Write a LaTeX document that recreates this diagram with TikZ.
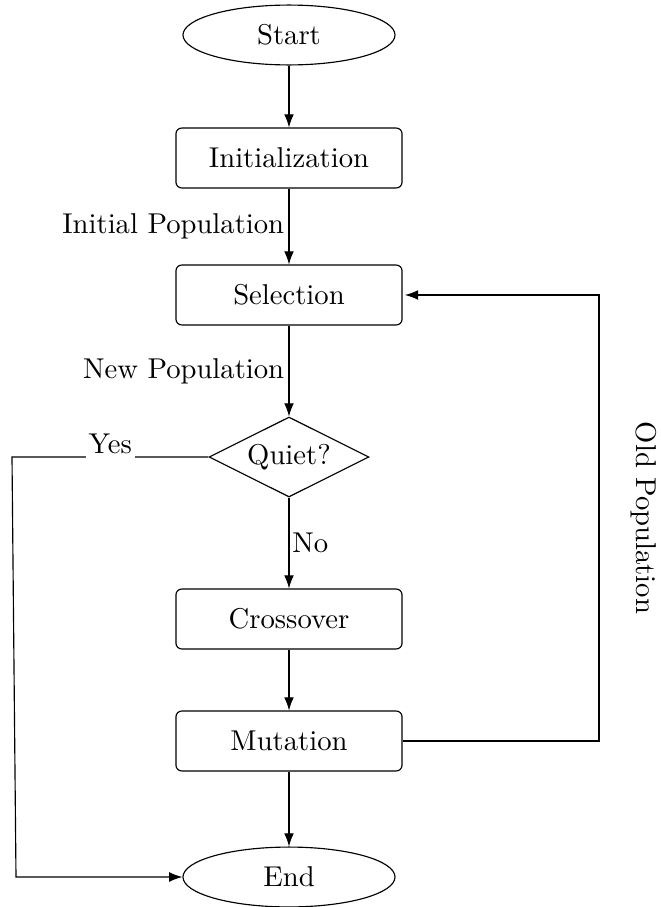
\documentclass[tikz,border=0pt]{standalone}
\usetikzlibrary{shapes.geometric,arrows.meta}
\begin{document}
\begin{tikzpicture}[x=0.349pt,y=-0.349pt,
  terminal/.style={draw, ellipse, inner sep=0pt, minimum width=74pt, minimum height=20.9pt},
  process/.style={draw, rectangle, rounded corners=2pt, minimum width=78.9pt, minimum height=20.9pt},
  decision/.style={draw, diamond, aspect=2, inner sep=0pt, minimum width=55.8pt, minimum height=27.9pt},
  flow/.style={draw, line width=0.4pt, -{Latex[length=4.6pt,width=3.4pt]}},
  sidelabel/.style={inner sep=1.5pt},
  cutlabel/.style={fill=white, inner sep=1pt},
]
\useasboundingbox (0,0) rectangle (660,907);

% main chain of steps
\node[terminal] (start) at (289,35)  {Start};
\node[process]  (init)  at (289,158) {Initialization};
\node[process]  (sel)   at (289,295) {Selection};
\node[decision] (quiet) at (289,457) {Quiet?};
\node[process]  (cross) at (289,619) {Crossover};
\node[process]  (mut)   at (289,741) {Mutation};
\node[terminal] (end)   at (289,877) {End};

% side rails for the two loops
\coordinate (leftrailtop) at (12,0);
\coordinate (leftrailbot) at (16,0);
\coordinate (rightrail)   at (599,0);

\draw[flow] (start) -- (init);
\draw[flow] (init) -- node[midway, left, sidelabel] {Initial Population} (sel);
\draw[flow] (sel) -- node[midway, left, sidelabel] {New Population} (quiet);
\draw[flow] (quiet) -- node[midway, right, cutlabel] {No} (cross);
\draw[flow] (cross) -- (mut);
\draw[flow] (mut) -- (end);

% termination branch
\draw[flow] (quiet.west)
  -- node[midway, anchor=base, yshift=1.2pt, fill=white, inner xsep=1pt, inner ysep=1.5pt] {Yes} (quiet.west -| leftrailtop)
  -- (end.west -| leftrailbot) -- (end.west);

% feedback loop back to selection
\draw[flow, shorten >=0.8pt] (mut.east) -- (mut.east -| rightrail)
  -- node[midway, xshift=15.7pt, rotate=-90] {Old Population} (sel.east -| rightrail)
  -- (sel.east);
\end{tikzpicture}
\end{document}
